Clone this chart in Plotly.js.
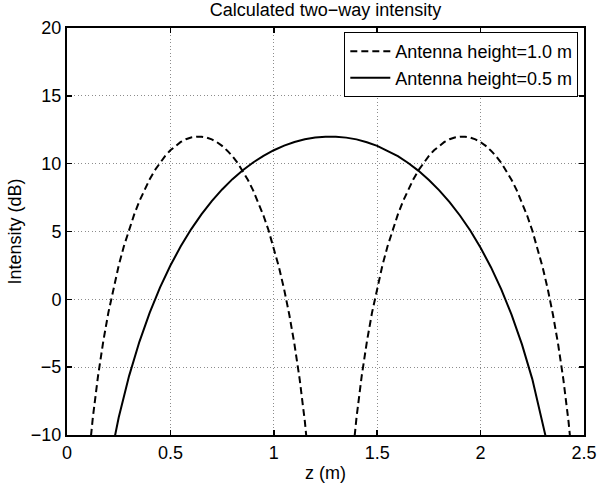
<!DOCTYPE html>
<html>
<head>
<meta charset="utf-8">
<script src="https://cdn.plot.ly/plotly-3.0.1.min.js"></script>
<style>html,body{margin:0;padding:0;background:#fff;}#chart{width:599px;height:483px;}</style>
</head>
<body>
<div id="chart"></div>
<script>
// Antenna height = 0.5 m (solid)
const solidZ = [0.2, 0.225, 0.25, 0.3, 0.35, 0.4, 0.45, 0.5, 0.55, 0.6, 0.65, 0.7, 0.75, 0.8, 0.85, 0.9, 0.95, 1.0, 1.05, 1.1, 1.15, 1.2, 1.25, 1.3, 1.35, 1.4, 1.45, 1.5, 1.55, 1.6, 1.65, 1.7, 1.75, 1.8, 1.85, 1.9, 1.95, 2.0, 2.05, 2.1, 2.15, 2.2, 2.25, 2.3, 2.325, 2.35];
const solidI = [-12.48, -10.48, -8.71, -5.66, -3.13, -0.98, 0.88, 2.49, 3.91, 5.16, 6.26, 7.24, 8.10, 8.86, 9.52, 10.09, 10.58, 10.99, 11.33, 11.60, 11.80, 11.93, 11.99, 11.99, 11.92, 11.79, 11.58, 11.31, 10.96, 10.55, 10.05, 9.47, 8.80, 8.03, 7.17, 6.18, 5.07, 3.80, 2.37, 0.74, -1.14, -3.32, -5.88, -8.98, -10.79, -12.83];

// Antenna height = 1.0 m (dashed), two lobes separated by a gap
const dashZ = [0.1, 0.1125, 0.125, 0.15, 0.175, 0.2, 0.225, 0.25, 0.275, 0.3, 0.325, 0.35, 0.375, 0.4, 0.425, 0.45, 0.475, 0.5, 0.525, 0.55, 0.575, 0.6, 0.625, 0.65, 0.675, 0.7, 0.725, 0.75, 0.775, 0.8, 0.825, 0.85, 0.875, 0.9, 0.925, 0.95, 0.975, 1.0, 1.025, 1.05, 1.075, 1.1, 1.125, 1.15, 1.1625, 1.175,
  null,
  1.375, 1.3875, 1.4, 1.425, 1.45, 1.475, 1.5, 1.525, 1.55, 1.575, 1.6, 1.625, 1.65, 1.675, 1.7, 1.725, 1.75, 1.775, 1.8, 1.825, 1.85, 1.875, 1.9, 1.925, 1.95, 1.975, 2.0, 2.025, 2.05, 2.075, 2.1, 2.125, 2.15, 2.175, 2.2, 2.225, 2.25, 2.275, 2.3, 2.325, 2.35, 2.375, 2.4, 2.425, 2.4375, 2.45];
const dashI = [-12.48, -10.48, -8.71, -5.66, -3.13, -0.98, 0.88, 2.49, 3.91, 5.16, 6.26, 7.24, 8.10, 8.86, 9.52, 10.09, 10.58, 10.99, 11.33, 11.60, 11.80, 11.93, 11.99, 11.99, 11.92, 11.79, 11.58, 11.31, 10.96, 10.55, 10.05, 9.47, 8.80, 8.03, 7.17, 6.18, 5.07, 3.80, 2.37, 0.74, -1.14, -3.32, -5.88, -8.98, -10.79, -12.83,
  null,
  -12.48, -10.48, -8.71, -5.66, -3.13, -0.98, 0.88, 2.49, 3.91, 5.16, 6.26, 7.24, 8.10, 8.86, 9.52, 10.09, 10.58, 10.99, 11.33, 11.60, 11.80, 11.93, 11.99, 11.99, 11.92, 11.79, 11.58, 11.31, 10.96, 10.55, 10.05, 9.47, 8.80, 8.03, 7.17, 6.18, 5.07, 3.80, 2.37, 0.74, -1.14, -3.32, -5.88, -8.98, -10.79, -12.83];

const seriesNames = ["Antenna height=1.0 m", "Antenna height=0.5 m"];
const xTicks = [0, 0.5, 1, 1.5, 2, 2.5];
const yTicks = [-10, -5, 0, 5, 10, 15, 20];
const chartTitle = "Calculated two\u2212way intensity";
const xLabel = "z (m)";
const yLabel = "Intensity (dB)";

const FONT = "Liberation Sans, Arial, Helvetica, sans-serif";
const FS = 18;

const traces = [
  {x: dashZ, y: dashI, name: seriesNames[0], type: "scatter", mode: "lines", connectgaps: false,
   line: {color: "#000", width: 2, dash: "7px,4px"}},
  {x: solidZ, y: solidI, name: seriesNames[1], type: "scatter", mode: "lines",
   line: {color: "#000", width: 2}}
];

const axisCommon = {
  showline: true, linecolor: "#000", linewidth: 2, mirror: "ticks",
  ticks: "inside", ticklen: 5, tickwidth: 1.5, tickcolor: "#000",
  showgrid: true, gridcolor: "#8c8c8c", gridwidth: 1, griddash: "1px,2.5px",
  zeroline: false, tickfont: {family: FONT, size: FS, color: "#000"}
};

const layout = {
  width: 599, height: 483,
  margin: {l: 67, r: 14.5, t: 28, b: 48, pad: 0},
  paper_bgcolor: "#fff", plot_bgcolor: "#fff",
  font: {family: FONT, size: FS, color: "#000"},
  title: {text: chartTitle, font: {family: FONT, size: FS, color: "#000"},
          xref: "paper", x: 0.5, xanchor: "center", yref: "container", y: 0.979, yanchor: "middle"},
  xaxis: Object.assign({}, axisCommon, {
    range: [0, 2.5], tickvals: xTicks, ticktext: xTicks.map(String),
    title: {text: xLabel, font: {family: FONT, size: FS, color: "#000"}, standoff: 5}
  }),
  yaxis: Object.assign({}, axisCommon, {
    range: [-10, 20], tickvals: yTicks,
    title: {text: yLabel, font: {family: FONT, size: FS, color: "#000"}, standoff: 5}
  }),
  showlegend: true,
  legend: {x: 0.989, xanchor: "right", y: 0.99, yanchor: "top",
           bgcolor: "#fff", bordercolor: "#000", borderwidth: 1, itemwidth: 40,
           font: {family: FONT, size: FS, color: "#000"}, tracegroupgap: 0}
};

Plotly.newPlot("chart", traces, layout, {displayModeBar: false, staticPlot: true});
</script>
</body>
</html>
